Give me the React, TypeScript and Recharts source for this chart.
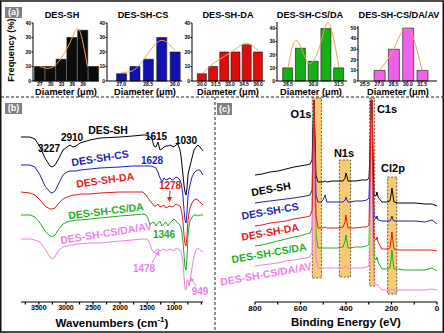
import React from "react";
import {
  ComposedChart,
  LineChart,
  Bar,
  Line,
  XAxis,
  YAxis,
  ReferenceArea,
} from "recharts";

const FONT = '"Liberation Sans", Arial, Helvetica, sans-serif';

// ---- (a) diameter histograms ----
const shDiam = [27, 30, 33, 36, 39, 42];
const shFreq = [10, 10, 15, 30, 35, 10];
const shFitD = [27, 30, 33, 36, 38, 40.2];
const shFit = [10, 9, 16, 30, 35, 10];
const shTicks = [27, 30, 33, 36, 39];

const csDiam = [27, 27.75, 28.5, 29.25, 30];
const csFreq = [5, 10, 15, 30, 20];
const csFit = [6, 8, 19, 28, 21];
const csTicks = [27, 28.5, 30];

const daDiam = [30, 31.2, 32.4, 33.6, 34.8, 36];
const daFreq = [5, 10, 20, 20, 25, 20];
const daFit = [5, 12, 17, 22, 26, 21];
const daTicks = [30, 31.5, 33, 34.5, 36];

const csdaDiam = [28.5, 29.25, 30, 30.75, 31.5];
const csdaFreq = [10, 25, 15, 40, 10];
const csdaFitD = [28.5, 28.95, 29.5, 29.9, 30.4, 30.9, 31.5];
const csdaFit = [10, 31, 18, 14, 28, 44, 10];
const csdaTicks = [28.5, 30, 31.5];

const avDiam = [27, 28.5, 30, 31.5];
const avFreq = [10, 30, 50, 10];
const avFit = [10, 30, 50, 10];
const avTicks = [25.5, 27, 28.5, 30, 31.5];

// ---- (b) FTIR ----
const wavenumbers = [
  3830, 3664, 3572, 3479, 3387, 3295, 3258, 3202, 3147, 3055, 2981, 2925, 2870,
  2815, 2741, 2556, 2372, 2003, 1763, 1578, 1523, 1486, 1449, 1412, 1375, 1338,
  1301, 1264, 1227, 1190, 1153, 1116, 1080, 1043, 1006, 969, 932, 895, 876, 858,
  839, 821, 802, 784, 765, 747, 729, 710, 673, 636, 599, 563, 526, 470,
];
const ftirSH = [
  165, 165, 163, 155, 144, 136, 135, 137, 142, 152, 155, 157, 155, 156, 159, 162,
  164, 165, 166, 167, 167, 166, 165, 163, 156, 155, 160, 152, 153, 155, 156, 156,
  157, 156, 155, 157, 158, 152, 146, 137, 127, 117, 110, 107, 114, 127, 132, 136,
  144, 152, 155, 157, 155, 151,
];
const ftirCS = [
  137, 137, 135, 127, 116, 110, 109, 111, 117, 127, 130, 131, 131, 131, 132, 133,
  134, 135, 136, 136, 136, 136, 136, 136, 135, 134, 130, 124, 120, 124, 122, 123,
  124, 122, 123, 125, 124, 122, 119, 114, 106, 92, 82, 79, 90, 106, 112, 117, 125,
  129, 131, 132, 132, 127,
];
const ftirDA = [
  110, 109, 107, 102, 96, 93, 93, 94, 98, 103, 105, 106, 107, 107, 108, 108, 109,
  110, 110, 110, 107, 104, 101, 99, 96, 96, 98, 95, 96, 97, 94, 95, 96, 95, 96, 98,
  97, 96, 93, 88, 80, 67, 58, 56, 66, 82, 89, 94, 99, 102, 103, 102, 100, 97,
];
const ftirCSDA = [
  87, 87, 85, 79, 71, 66, 65, 67, 72, 78, 80, 81, 81, 82, 82, 83, 84, 86, 87, 88,
  87, 84, 77, 79, 80, 76, 79, 81, 76, 78, 80, 76, 79, 81, 83, 81, 79, 77, 74, 69,
  60, 47, 35, 32, 44, 66, 76, 81, 85, 87, 87, 86, 87, 87,
];
const ftirAV = [
  63, 63, 62, 60, 53, 45, 43, 45, 51, 55, 56, 57, 57, 58, 58, 59, 59, 61, 62, 63,
  63, 62, 58, 52, 49, 52, 53, 51, 52, 53, 51, 52, 53, 52, 51, 54, 53, 52, 50, 46,
  40, 25, 13, 12, 21, 22, 16, 21, 34, 46, 52, 54, 52, 50,
];
const ftirTicks = [3750, 3500, 3250, 3000, 2750, 2500, 2250, 2000, 1750, 1500, 1250, 1000, 750, 500];

// ---- (c) XPS survey ----
const bindingEnergy = [
  800, 769, 734, 699, 664, 629, 602, 576, 558, 549, 545, 541, 536, 532, 523, 510,
  501, 492, 484, 461, 435, 413, 404, 400, 396, 391, 382, 360, 330, 308, 299, 294,
  290, 286, 281, 277, 268, 264, 259, 242, 220, 207, 202, 198, 193, 189, 171, 141,
  97, 53, 22, 0,
];
const xpsSH = [
  127, 128, 130, 131, 133, 135, 136, 137, 138, 142, 172, 202, 162, 127, 120, 120,
  120, 121, 120, 121, 121, 121, 124, 129, 126, 121, 121, 121, 122, 122, 124, 152,
  202, 202, 142, 107, 106, 110, 105, 100, 100, 101, 107, 114, 106, 100, 99, 99, 99,
  98, 98, 96,
];
const xpsCS = [
  99, 100, 101, 102, 103, 104, 105, 106, 107, 112, 162, 202, 152, 107, 100, 100,
  102, 107, 100, 100, 100, 100, 102, 105, 102, 100, 100, 101, 101, 102, 104, 142,
  202, 202, 122, 87, 83, 86, 82, 81, 81, 81, 83, 86, 82, 81, 81, 81, 81, 80, 82, 78,
];
const xpsDA = [
  76, 77, 79, 80, 81, 83, 84, 85, 86, 92, 152, 202, 142, 87, 74, 74, 74, 75, 74, 74,
  74, 75, 80, 87, 80, 74, 74, 74, 75, 75, 77, 132, 202, 202, 102, 64, 62, 65, 60,
  53, 53, 54, 62, 70, 60, 53, 52, 52, 52, 52, 52, 51,
];
const xpsCSDA = [
  56, 57, 59, 61, 63, 65, 66, 68, 69, 74, 132, 192, 122, 67, 54, 54, 54, 54, 54, 54,
  54, 55, 61, 67, 61, 54, 54, 55, 55, 56, 58, 112, 192, 192, 82, 44, 42, 45, 40, 33,
  33, 34, 42, 52, 40, 33, 33, 32, 32, 32, 34, 31,
];
const xpsAV = [
  36, 37, 38, 39, 41, 42, 43, 44, 45, 50, 112, 182, 102, 44, 34, 34, 34, 34, 34, 34,
  34, 34, 35, 36, 35, 34, 34, 34, 34, 35, 36, 92, 182, 182, 52, 20, 17, 18, 16, 12,
  12, 12, 12, 13, 12, 12, 12, 12, 12, 12, 13, 12,
];
const xpsTicks = [0, 100, 200, 300, 400, 500, 600, 700, 800];
const bandNames = ["O1s", "N1s", "C1s", "Cl2p"];
const bandLow = [508, 380, 274, 177];
const bandHigh = [548, 429, 296, 217];
const bandBottom = [24, 25, 16, 8];
const bandTop = [204, 142, 204, 125];

const BLACK = "#000";
const BLUE = "#1f1fb8";
const RED = "#e31b1b";
const GREEN = "#1fae1f";
const PINK = "#ee7fe8";

const hists = [
  { title: "DES-SH", color: "#0b0b0b", diam: shDiam, freq: shFreq, fitD: shFitD, fit: shFit, ticks: shTicks,
    left: 0, width: 102, yw: 33, top: 23, yMax: 40, domain: [25.1, 43.4], barSize: 10, dec: 0, cx: 62, lx: 66 },
  { title: "DES-SH-CS", color: "#1212b0", diam: csDiam, freq: csFreq, fitD: csDiam, fit: csFit, ticks: csTicks,
    left: 95, width: 90, yw: 12, top: 23, yMax: 40, domain: [26.2, 30.4], barSize: 10, dec: 1, cx: 143, lx: 145 },
  { title: "DES-SH-DA", color: "#e00c0c", diam: daDiam, freq: daFreq, fitD: daDiam, fit: daFit, ticks: daTicks,
    left: 180, width: 88, yw: 12, top: 23, yMax: 40, domain: [28.93, 36.75], barSize: 9, dec: 1, cx: 228, lx: 228 },
  { title: "DES-SH-CS/DA", color: "#14b014", diam: csdaDiam, freq: csdaFreq, fitD: csdaFitD, fit: csdaFit, ticks: csdaTicks,
    left: 265, width: 85, yw: 12, top: 22, yMax: 45, domain: [27.85, 31.97], barSize: 10, dec: 1, cx: 310, lx: 311 },
  { title: "DES-SH-CS/DA/AV", color: "#f060e8", diam: avDiam, freq: avFreq, fitD: avDiam, fit: avFit, ticks: avTicks,
    left: 346, width: 94, yw: 12, top: 26, yMax: 52, domain: [24.77, 33.06], barSize: 11, dec: 1, cx: 399, lx: 398 },
];

function Note({ x, y, color = BLACK, size = 10, rotate = 0, children }: any) {
  return (
    <div
      style={{
        position: "absolute",
        left: x,
        top: y,
        transform: `translate(-50%, -50%) rotate(${rotate}deg)`,
        color,
        fontSize: size,
        fontWeight: 700,
        fontFamily: FONT,
        whiteSpace: "nowrap",
        lineHeight: 1,
        pointerEvents: "none",
      }}>
      {children}
    </div>
  );
}

function Tag({ x, y, w, h, text }: any) {
  return (
    <div
      style={{
        position: "absolute",
        left: x,
        top: y,
        width: w,
        height: h,
        background: "#808080",
        color: "#fff",
        fontFamily: FONT,
        fontWeight: 700,
        fontSize: 9,
        lineHeight: `${h}px`,
        textAlign: "center",
      }}>
      {text}
    </div>
  );
}

function Hist({ h }: any) {
  const bars = h.diam.map((d: number, i: number) => ({ d, freq: h.freq[i] }));
  const fit = h.fitD.map((d: number, i: number) => ({ d, fit: h.fit[i] }));
  const yTicks = [0, 10, 20, 30, 40, 50].filter((t) => t <= h.yMax);
  const tick = { fontSize: 5, fill: "#000", fontFamily: FONT, fontWeight: 700 };
  const margin = { top: h.top, right: 3, left: 0, bottom: 0 };
  return (
    <>
      <div style={{ position: "absolute", left: h.left, top: 0 }}>
        <ComposedChart width={h.width} height={88} data={bars} margin={margin}>
          <XAxis
            dataKey="d"
            type="number"
            domain={h.domain}
            ticks={h.ticks}
            interval={0}
            height={7}
            tickSize={1.2}
            tickMargin={0}
            tick={tick}
            tickFormatter={(v: number) => v.toFixed(h.dec)}
            stroke="#000"
          />
          <YAxis
            width={h.yw}
            domain={[0, h.yMax]}
            ticks={yTicks}
            interval={0}
            tickSize={1.5}
            tickMargin={0.5}
            tick={tick}
            stroke="#000"
          />
          <Bar
            dataKey="freq"
            fill={h.color}
            stroke="#111"
            strokeWidth={0.6}
            barSize={h.barSize}
            isAnimationActive={false}
          />
        </ComposedChart>
      </div>
      {/* fitted curve, same axes geometry */}
      <div style={{ position: "absolute", left: h.left, top: 0 }}>
        <LineChart width={h.width} height={88} data={fit} margin={margin}>
          <XAxis dataKey="d" type="number" domain={h.domain} height={7} tick={false} tickLine={false} axisLine={false} />
          <YAxis width={h.yw} domain={[0, h.yMax]} tick={false} tickLine={false} axisLine={false} allowDataOverflow />
          <Line
            dataKey="fit"
            type="natural"
            stroke="#f2a04c"
            strokeWidth={1}
            dot={false}
            isAnimationActive={false}
          />
        </LineChart>
      </div>
    </>
  );
}

export default function App() {
  const ftirRows = wavenumbers.map((w, i) => ({
    w,
    sh: ftirSH[i],
    cs: ftirCS[i],
    da: ftirDA[i],
    csda: ftirCSDA[i],
    av: ftirAV[i],
  }));
  const xpsRows = bindingEnergy.map((e, i) => ({
    e,
    sh: xpsSH[i],
    cs: xpsCS[i],
    da: xpsDA[i],
    csda: xpsCSDA[i],
    av: xpsAV[i],
  }));

  return (
    <div
      style={{
        position: "absolute",
        left: 0,
        top: 0,
        width: 444,
        height: 333,
        background: "#fff",
        overflow: "hidden",
        fontFamily: FONT,
      }}>
      {/* (a) */}
      {hists.map((h) => (
        <Hist key={h.title} h={h} />
      ))}
      {hists.map((h) => (
        <Note key={h.title + "t"} x={h.cx} y={16} size={9.2}>
          {h.title}
        </Note>
      ))}
      {hists.map((h) => (
        <Note key={h.title + "x"} x={h.lx} y={92.5} size={9.2}>
          Diameter (μm)
        </Note>
      ))}
      <Note x={12} y={50} size={9.2} rotate={-90}>
        Frequency (%)
      </Note>

      {/* (b) FTIR */}
      <div style={{ position: "absolute", left: 0, top: 97 }}>
        <LineChart width={215} height={236} data={ftirRows} margin={{ top: 0, right: 12, left: 21, bottom: 0 }}>
          <XAxis
            dataKey="w"
            type="number"
            domain={[470, 3830]}
            reversed
            ticks={ftirTicks}
            interval={0}
            height={31}
            tickSize={2.5}
            tickMargin={1}
            tick={{ fontSize: 7, fill: "#000", fontFamily: FONT, fontWeight: 700 }}
            tickFormatter={(v: number) => (v >= 1000 && v <= 3500 && v % 500 === 0 ? String(v) : "")}
            stroke="#000"
            strokeWidth={1.2}
          />
          <YAxis hide domain={[0, 205]} />
          <Line dataKey="sh" stroke={BLACK} strokeWidth={1} dot={false} isAnimationActive={false} />
          <Line dataKey="cs" stroke={BLUE} strokeWidth={1} dot={false} isAnimationActive={false} />
          <Line dataKey="da" stroke={RED} strokeWidth={1} dot={false} isAnimationActive={false} />
          <Line dataKey="csda" stroke={GREEN} strokeWidth={1} dot={false} isAnimationActive={false} />
          <Line dataKey="av" stroke={PINK} strokeWidth={1} dot={false} isAnimationActive={false} />
        </LineChart>
      </div>
      <Note x={108} y={130} size={10.5}>DES-SH</Note>
      <Note x={49} y={149} size={10}>3227</Note>
      <Note x={72} y={138} size={10}>2910</Note>
      <Note x={156} y={137} size={10}>1615</Note>
      <Note x={186} y={141} size={10}>1030</Note>
      <Note x={100} y={158} size={10.5} color={BLUE} rotate={-9}>DES-SH-CS</Note>
      <Note x={152} y={161} size={10} color={BLUE}>1628</Note>
      <Note x={105} y={180} size={10.5} color={RED} rotate={-8}>DES-SH-DA</Note>
      <Note x={170} y={186} size={10} color={RED}>1278</Note>
      <Note x={106} y={211} size={10.5} color={GREEN} rotate={-7}>DES-SH-CS/DA</Note>
      <Note x={164} y={235} size={10} color={GREEN}>1346</Note>
      <Note x={106} y={233} size={10.5} color={PINK} rotate={-9}>DES-SH-CS/DA/AV</Note>
      <Note x={144} y={269} size={10} color={PINK}>1478</Note>
      <Note x={200} y={292} size={10} color={PINK}>949</Note>
      <Note x={112} y={323} size={11.5}>
        Wavenumbers (cm<sup style={{ fontSize: 8 }}>-1</sup>)
      </Note>

      {/* (c) XPS */}
      <div style={{ position: "absolute", left: 215, top: 97 }}>
        <LineChart width={229} height={236} data={xpsRows} margin={{ top: 0, right: 7, left: 40, bottom: 0 }}>
          <XAxis
            dataKey="e"
            type="number"
            domain={[0, 800]}
            reversed
            ticks={xpsTicks}
            interval={0}
            height={31}
            tickSize={2.5}
            tickMargin={1}
            tick={{ fontSize: 8, fill: "#000", fontFamily: FONT, fontWeight: 700 }}
            tickFormatter={(v: number) => (v % 200 === 0 ? String(v) : "")}
            stroke="#000"
            strokeWidth={1.2}
          />
          <YAxis hide domain={[0, 205]} />
          {bandNames.map((n, i) => (
            <ReferenceArea
              key={n}
              x1={bandLow[i]}
              x2={bandHigh[i]}
              y1={bandBottom[i]}
              y2={bandTop[i]}
              fill="#f7c462"
              fillOpacity={0.9}
              stroke="#222"
              strokeWidth={0.7}
              strokeDasharray="2 1.5"
              ifOverflow="visible"
            />
          ))}
          <Line dataKey="sh" stroke={BLACK} strokeWidth={1} dot={false} isAnimationActive={false} />
          <Line dataKey="cs" stroke={BLUE} strokeWidth={1} dot={false} isAnimationActive={false} />
          <Line dataKey="csda" stroke={GREEN} strokeWidth={1} dot={false} isAnimationActive={false} />
          <Line dataKey="av" stroke={PINK} strokeWidth={1} dot={false} isAnimationActive={false} />
          <Line dataKey="da" stroke={RED} strokeWidth={1} dot={false} isAnimationActive={false} />
        </LineChart>
      </div>
      <Note x={301} y={114} size={11}>O1s</Note>
      <Note x={344} y={153} size={11}>N1s</Note>
      <Note x={387} y={109} size={11}>C1s</Note>
      <Note x={393} y={168} size={11}>Cl2p</Note>
      <Note x={271} y={189} size={10.5} rotate={-10}>DES-SH</Note>
      <Note x={270} y={211} size={10.5} color={BLUE} rotate={-10}>DES-SH-CS</Note>
      <Note x={270} y={232} size={10.5} color={RED} rotate={-10}>DES-SH-DA</Note>
      <Note x={269} y={253} size={10.5} color={GREEN} rotate={-10}>DES-SH-CS/DA</Note>
      <Note x={266} y={274} size={10.5} color={PINK} rotate={-10}>DES-SH-CS/DA/AV</Note>
      <Note x={346} y={322.5} size={11.5}>Binding Energy (eV)</Note>

      {/* frame, separators, arrows */}
      <svg width={444} height={333} style={{ position: "absolute", left: 0, top: 0, pointerEvents: "none" }}>
        <rect x={0.75} y={1} width={442.5} height={331} fill="none" stroke="#111" strokeWidth={1.5} />
        <line x1={1} y1={97} x2={443} y2={97} stroke="#222" strokeWidth={1} strokeDasharray="3 2" />
        <line x1={215} y1={97} x2={215} y2={332} stroke="#222" strokeWidth={1} strokeDasharray="3 2" />
        <line x1={170} y1={191} x2={169.5} y2={199} stroke={RED} strokeWidth={1} />
        <polygon points="167,197 172,197 169.5,202" fill={RED} />
        <line x1={152} y1={263} x2={157} y2={254} stroke={PINK} strokeWidth={1} />
        <polygon points="155,254 159.5,256 159,250" fill={PINK} />
        <line x1={196} y1={286} x2={192} y2={280} stroke={PINK} strokeWidth={1} />
        <polygon points="190,282 194,280 190.5,277" fill={PINK} />
      </svg>
      <Tag x={5} y={7} w={17} h={11} text="(a)" />
      <Tag x={5} y={103} w={17} h={11} text="(b)" />
      <Tag x={217} y={103} w={15} h={12} text="(c)" />
    </div>
  );
}
